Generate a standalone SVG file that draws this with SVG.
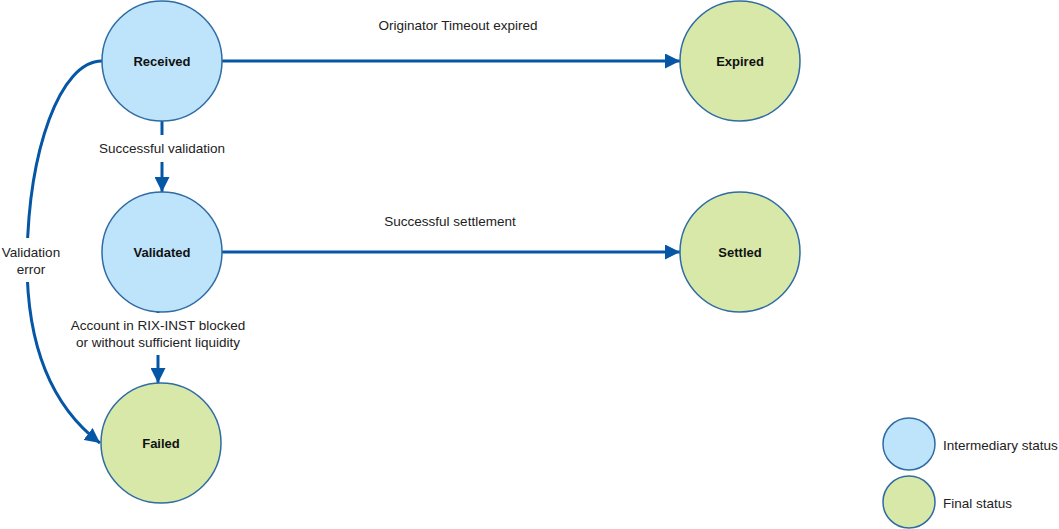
<svg xmlns="http://www.w3.org/2000/svg" width="1059" height="529" viewBox="0 0 1059 529">
<defs>
<style>
.inter{fill:#BEE4FB;stroke:#2F6CA3;stroke-width:1.5}
.final{fill:#D7E8A9;stroke:#2F6CA3;stroke-width:1.5}
.lbl{font-family:"Liberation Sans",Arial,sans-serif;font-size:13px;font-weight:bold;fill:#111;text-anchor:middle;dominant-baseline:central}
.txt{font-family:"Liberation Sans",Arial,sans-serif;font-size:13.5px;fill:#222;text-anchor:middle}
.leg{font-family:"Liberation Sans",Arial,sans-serif;font-size:13.5px;fill:#222;dominant-baseline:central}
.edge{fill:none;stroke:#0656A6;stroke-width:3}
.bg{fill:#fff}
</style>
<marker id="arr" viewBox="0 0 10 10" refX="10" refY="5" markerWidth="5" markerHeight="5" orient="auto" markerUnits="strokeWidth">
<path d="M0,0 L10,5 L0,10 Z" fill="#0656A6"/>
</marker>
</defs>
<rect width="1059" height="529" fill="#fff"/>
<g id="connectors">
<path class="edge" d="M222,61 L680,61" marker-end="url(#arr)"/>
<path class="edge" d="M222,252 L680,252" marker-end="url(#arr)"/>
<path class="edge" d="M162,121 L162,192" marker-end="url(#arr)"/>
<path class="edge" d="M158,311 L158,383" marker-end="url(#arr)"/>
<path class="edge" d="M102,61 C60,61 28,150 27,262 C27,345 50,405 100,443" marker-end="url(#arr)"/>
<rect class="bg" x="93" y="135" width="139" height="27"/>
<text class="txt" x="162" y="153">Successful validation</text>
<rect class="bg" x="60" y="313" width="195" height="42"/>
<text class="txt" x="158" y="330">Account in RIX-INST blocked</text>
<text class="txt" x="158" y="347">or without sufficient liquidity</text>
<rect class="bg" x="0" y="238" width="78" height="44"/>
<text class="txt" x="31" y="257">Validation</text>
<text class="txt" x="31" y="274">error</text>
<text class="txt" x="458" y="30">Originator Timeout expired</text>
<text class="txt" x="450" y="226">Successful settlement</text>
</g>
<g id="received"><circle class="inter" cx="162" cy="61" r="60"/><text class="lbl" x="162" y="61">Received</text></g>
<g id="validated"><circle class="inter" cx="162" cy="252" r="60"/><text class="lbl" x="162" y="252">Validated</text></g>
<g id="failed"><circle class="final" cx="161" cy="443" r="60"/><text class="lbl" x="161" y="443">Failed</text></g>
<g id="expired"><circle class="final" cx="740" cy="61" r="60"/><text class="lbl" x="740" y="61">Expired</text></g>
<g id="settled"><circle class="final" cx="740" cy="252" r="60"/><text class="lbl" x="740" y="252">Settled</text></g>
<g id="legend">
<circle class="inter" cx="909" cy="444" r="26"/>
<text class="leg" x="943" y="445">Intermediary status</text>
<circle class="final" cx="909" cy="502" r="26"/>
<text class="leg" x="943" y="503">Final status</text>
</g>
</svg>
